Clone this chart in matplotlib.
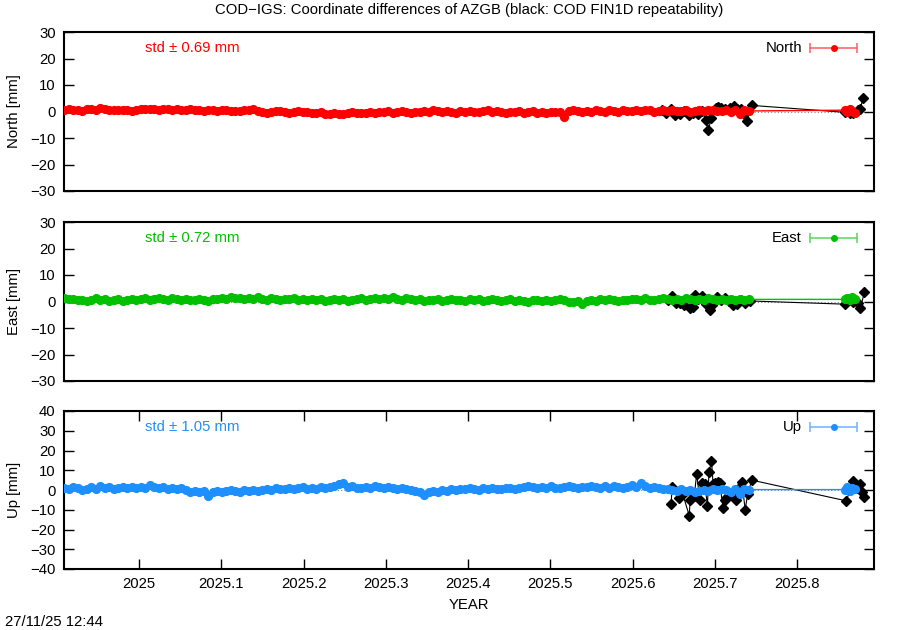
import numpy as np
import matplotlib
matplotlib.use("Agg")
import matplotlib.pyplot as plt

plt.rcParams['font.family'] = ['Liberation Sans', 'DejaVu Sans']
plt.rcParams['font.size'] = 10.7

# daily-ish solutions, every 2nd day from 2024.909 to 2025.741
start_epoch = 2024.909
step = 2 / 365.25

north = [0.5, 0.8, 0.6, 0.4, 0.2, 0.9, 1.0, 0.7,
         1.5, 0.8, 0.6, 0.7, 0.5, 0.4, 0.6, 0.3, 0.5,
         0.8, 1.0, 0.9, 1.1, 0.7, 0.9, 1.0, 0.6, 0.8,
         0.5, 0.7, 1.0, 0.6, 0.4, 0.3, 0.5, 0.6, 0.2,
         0.5, 0.7, 0.1, 0.3, 0.2, 0.4, 0.6, 0.8, 0.3,
         0.0, -0.4, -0.2, 0.1, 0.3, -0.1, -0.4, -0.2, 0.1,
         -0.3, 0.0, -0.7, -0.5, -0.2, -0.8, -1.0, -0.6, -1.1,
         -0.8, -0.4, -0.1, -0.5, -0.7, -0.4, -0.2, -0.6, 0.0,
         -0.2, 0.1, -0.4, -0.1, 0.2, -0.2, -0.5, 0.0, -0.1,
         0.3, 0.0, 0.6, 0.1, -0.2, 0.2, -0.1, -0.4, 0.1,
         -0.2, 0.3, 0.0, -0.3, 0.1, 0.4, -0.1, 0.2, -0.2,
         -0.5, 0.0, -0.2, 0.2, -0.4, -0.1, 0.1, -0.6, -0.2,
         -0.6, -0.3, -0.2, 0.0, -2.0, 0.2, 0.4, 0.1, -0.2,
         0.2, 0.0, 0.5, 0.3, -0.1, 0.4, 0.2, 0.0, 0.6,
         0.3, 0.1, 0.5, 0.2, 0.7, 0.4, 0.0, 0.3, 0.5,
         0.2, 0.6, 0.3, 0.1, 0.4, -0.2, 0.3, 0.5, 0.2,
         0.4, 0.6, 0.1, 0.3, 0.5, 0.0, 0.4, -0.8, 0.6, 0.2]

east = [1.2, 0.8, 1.0, 0.5, 0.7, 0.3, 0.6, 1.4, 0.4, 0.8, 0.2, 0.6, 0.9, 0.3, 0.7, 1.1, 0.5,
        0.8, 1.2, 0.6, 0.9, 1.5, 1.0, 0.7, 1.3, 0.9, 0.5, 0.8, 0.4, 0.7, 1.0, 0.6, 0.3, 0.8, 1.1,
        1.4, 0.9, 1.6, 1.2, 1.5, 1.0, 1.3, 0.8, 1.7, 1.1, 0.7, 1.2, 0.9, 0.6, 1.0, 0.8, 1.3, 0.5,
        0.9, 0.6, 1.1, 0.4, 0.8, 0.2, 0.7, 1.0, 0.5, 0.9, 0.3, 0.6, 0.8, 1.2, 0.7, 1.0, 1.4, 0.9,
        1.3, 1.0, 1.6, 1.1, 0.7, 1.2, 0.8, 0.5, 0.9, 0.3, 0.7, 0.4, 0.8, 0.2, 0.6, 0.9, 0.4, 0.7,
        0.3, 0.8, 0.5, 0.9, 0.2, 0.6, 1.0, 0.4, 0.1, 0.5, 0.8, 0.3, 0.6, 0.2, -0.2, 0.4, 0.7, 0.1,
        0.5, 0.2, 0.6, 0.9, 0.4, 0.0, -0.3, 0.3, -1.0, 0.2, 0.6, 0.3, 0.8, 0.5, 0.9, 0.6, 0.3, 0.7,
        0.4, 0.8, 1.0, 0.6, 1.2, 0.7, 0.4, 0.9, 1.3, 0.8, 0.5, 1.1, 0.6, 1.4, 0.9, 0.5, 1.0, 0.7,
        1.2, 0.8, 0.4, 0.9, 0.6, 1.1, 0.7, 0.9, 0.5, 0.8]

up = [1.2, 0.5, 1.5, 0.8, 0.0, 0.6, 1.3, 0.7, 1.9, 1.0, 1.4, 0.6, 1.2, 1.7, 0.9, 1.4, 0.8,
      1.6, 1.1, 2.4, 1.5, 0.9, 1.3, 0.6, 1.1, 0.4, 0.8,
      -0.2, -0.8, -0.4, -1.2, -0.6, -3.2, -0.9, -0.3, -1.0, -0.5, 0.0, -0.7, -1.1, -0.2, -0.6, 0.1, -0.4, 0.2,
      0.5, 0.0, 0.8, 0.3, 0.6, 1.0, 0.4, 0.9, 1.3, 0.7, 1.1, 0.5, 1.4, 0.9, 1.6, 2.0, 2.8,
      3.3, 1.5, 1.9, 1.2, 0.8, 1.6, 1.1, 2.0, 1.4, 0.9, 1.7, 1.2, 0.6, 1.0, 0.4, 0.0, -0.5, -1.0,
      -2.4, -0.8, -0.3, -1.1, 0.2, -0.4, 0.5, 0.0, 0.7, 0.3, 1.0, 0.6, 0.2, 0.9, 0.4, 1.1, 0.7, 0.3,
      0.8, 1.2, 0.6, 1.0, 1.6, 1.9, 1.3, 0.9, 1.5, 1.1, 1.8, 1.2, 0.8, 1.6, 2.1, 1.4, 1.0, 1.7,
      1.3, 2.2, 1.5, 0.9, 1.8, 1.2, 2.0, 1.4, 1.0, 1.7, 2.4, 1.3, 3.6, 1.8, 1.1, 1.5, 0.9, 0.4,
      0.6, 0.1, -0.4, 0.3, -0.6, 0.0, -0.9, -0.3, 0.2, -0.5, 0.4, -0.2, 0.5, 0.0, -1.0, 0.3, -2.0, 0.6, 0.2]

# last few solutions after the gap
tail_epochs = [2025.858, 2025.861, 2025.864, 2025.867, 2025.870]
north_tail = [0.5, 0.0, 0.8, 0.2, -0.6]
east_tail = [0.8, 1.5, 0.6, 1.8, 1.0]
up_tail = [0.2, 1.5, -0.5, 0.8, 0.3]

# COD FIN1D repeatability (black)
rep_n_epochs = [2025.636, 2025.641, 2025.647, 2025.652, 2025.658, 2025.663, 2025.669, 2025.674,
                2025.680, 2025.685, 2025.689, 2025.692, 2025.696, 2025.701, 2025.704, 2025.707,
                2025.712, 2025.718, 2025.723, 2025.727, 2025.732, 2025.736, 2025.739, 2025.745,
                2025.858, 2025.864, 2025.868, 2025.874, 2025.877, 2025.880]
rep_n = [0.5, -0.5, 1.0, -1.2, -0.8, 0.3, -1.5, -0.5, -1.0, 0.3, -3.2, -7.0, -2.5, 1.5, 1.8, 1.2,
         0.8, 1.5, 2.0, 0.8, 1.0, -1.0, -3.5, 2.3,
         -0.3, -0.6, -0.4, 0.5, 0.8, 5.0]

rep_e_epochs = [2025.643, 2025.648, 2025.653, 2025.658, 2025.663, 2025.670, 2025.674, 2025.676,
                2025.680, 2025.685, 2025.689, 2025.694, 2025.697, 2025.703, 2025.708, 2025.713,
                2025.717, 2025.722, 2025.727, 2025.732, 2025.737, 2025.743,
                2025.858, 2025.868, 2025.874, 2025.877, 2025.882]
rep_e = [0.5, 2.0, -0.5, -0.5, -1.5, -2.3, -2.0, 2.6, 1.0, 2.0, -1.0, -3.3, -1.5, 1.8, 0.5, 1.5,
         0.3, -1.3, -0.8, 0.4, -0.5, 0.2,
         -1.0, -0.3, -0.5, -2.5, 3.5]

rep_u_epochs = [2025.647, 2025.648, 2025.657, 2025.661, 2025.669, 2025.670, 2025.675, 2025.678,
                2025.682, 2025.685, 2025.688, 2025.691, 2025.693, 2025.696, 2025.698, 2025.700,
                2025.704, 2025.706, 2025.710, 2025.713, 2025.715, 2025.720, 2025.726, 2025.730,
                2025.733, 2025.737, 2025.740, 2025.745,
                2025.860, 2025.868, 2025.873, 2025.877, 2025.879, 2025.882]
rep_u = [-7.0, 1.5, -4.0, -2.0, -13.0, -5.0, -3.0, 8.0, -5.0, 3.7, 3.0, -8.0, 9.0, 14.8, 3.0, 3.7,
         4.0, 3.7, -9.0, -5.0, -3.5, -2.0, -5.0, 1.0, 4.0, -10.0, -2.0, 5.0,
         -5.5, 4.5, 1.0, 3.0, -1.0, -3.5]

labels = ['North', 'East', 'Up']
ylabels = ['North [mm]', 'East [mm]', 'Up [mm]']
stds = [0.69, 0.72, 1.05]
colors = ['#ff0000', '#00c000', '#1e8fff']
leg_colors = ['#ff6a6a', '#6ad86a', '#7ab8ff']
ylims = [(-30, 30), (-30, 30), (-40, 40)]
xticks = [2025, 2025.1, 2025.2, 2025.3, 2025.4, 2025.5, 2025.6, 2025.7, 2025.8]

main_epochs = start_epoch + np.arange(len(north)) * step
series = [north + north_tail, east + east_tail, up + up_tail]
reps = [(rep_n_epochs, rep_n), (rep_e_epochs, rep_e), (rep_u_epochs, rep_u)]
epochs = list(main_epochs) + tail_epochs

fig = plt.figure(figsize=(9, 6.3), dpi=100)
W, H = 900, 630
boxes = [(32, 191), (222, 381), (411, 569)]

for i in range(3):
    top, bot = boxes[i]
    ax = fig.add_axes([64 / W, 1 - bot / H, 810 / W, (bot - top) / H])
    ax.set_xlim(2024.9088, 2025.8936)
    ax.set_ylim(*ylims[i])

    ax.axhline(0, color='#888888', lw=0.8, ls=(0, (1, 2)), zorder=1)

    rx, ry = reps[i]
    ax.plot(rx, ry, color='black', lw=0.8, marker='D', ms=5, zorder=2)
    ax.plot(epochs, series[i], color=colors[i], lw=1.0, marker='o', ms=5.6,
            mec=colors[i], zorder=3)

    lo, hi = ylims[i]
    ax.set_yticks(np.arange(lo, hi + 1, 10))
    ax.tick_params(axis='y', direction='in', length=7, width=1, right=True, pad=6)
    if i == 2:
        ax.set_xticks(xticks)
        ax.set_xticklabels([f'{t:g}' for t in xticks])
        ax.tick_params(axis='x', direction='in', length=7, width=1, top=True, pad=6)
    else:
        ax.set_xticks([])
    for sp in ax.spines.values():
        sp.set_linewidth(1.5)

    ax.text(0.1, 0.9, f'std \u00b1 {stds[i]:.2f} mm', transform=ax.transAxes,
            color=colors[i], ha='left', va='center')
    ax.text(0.911, 0.9, labels[i], transform=ax.transAxes, ha='right', va='center')
    # key sample: line with end caps and a dot
    ax.plot([0.921, 0.979], [0.9, 0.9], transform=ax.transAxes, color=leg_colors[i],
            lw=1.2, clip_on=False)
    ax.plot([0.921, 0.979], [0.9, 0.9], transform=ax.transAxes, color=leg_colors[i],
            ls='none', marker='|', ms=7, mew=1.2, clip_on=False)
    ax.plot([0.95], [0.9], transform=ax.transAxes, color=colors[i], marker='o', ms=4,
            clip_on=False)

    fig.text(14 / W, 1 - (top + bot) / 2 / H, ylabels[i], rotation=90, ha='center',
             va='center')

fig.text(469 / W, 1 - 10 / H,
         'COD\u2212IGS: Coordinate differences of AZGB (black: COD FIN1D repeatability)',
         ha='center', va='center')
fig.text(469 / W, 1 - 605 / H, 'YEAR', ha='center', va='center')
fig.text(5 / W, 1 - 622 / H, '27/11/25 12:44', ha='left', va='center')

fig.savefig('out.png', dpi=100)
